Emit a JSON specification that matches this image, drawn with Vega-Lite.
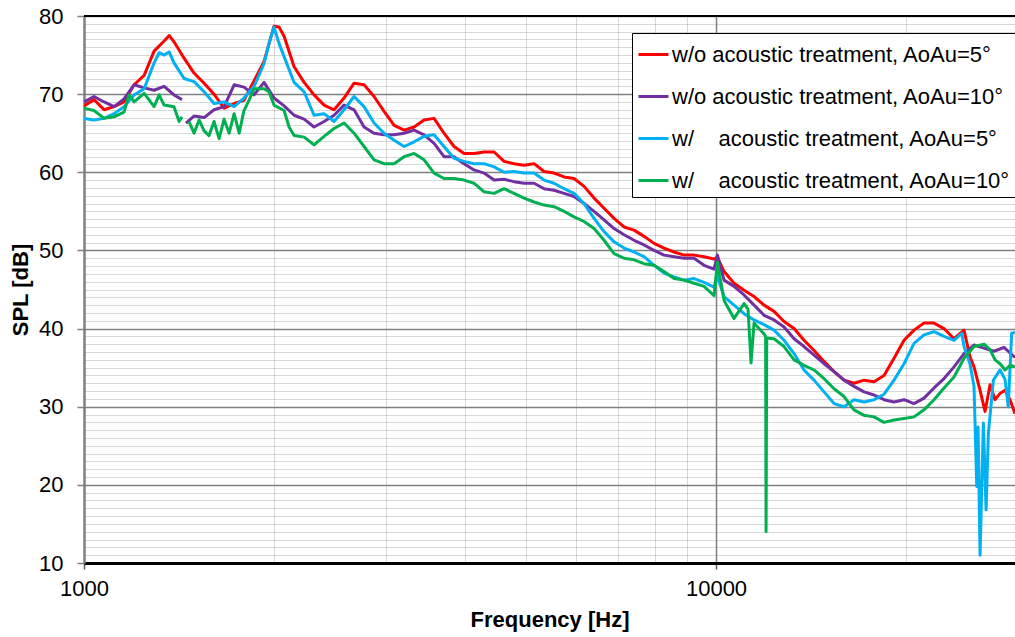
{
  "$schema": "https://vega.github.io/schema/vega-lite/v6.json",
  "width": 931,
  "height": 547,
  "autosize": {"type": "none"},
  "padding": {"left": 84, "top": 16, "right": 0, "bottom": 74},
  "background": "white",
  "config": {"view": {"stroke": null}, "font": "Liberation Sans"},
  "layer": [
    {
      "data": {"values": [
        {"series":"R","seg":"a","freq":1000,"spl":68.5},{"series":"R","seg":"a","freq":1037,"spl":69.3},{"series":"R","seg":"a","freq":1076,"spl":68.0},{"series":"R","seg":"a","freq":1116,"spl":68.4},{"series":"R","seg":"a","freq":1157,"spl":69.0},{"series":"R","seg":"a","freq":1200,"spl":71.2},{"series":"R","seg":"a","freq":1245,"spl":72.4},{"series":"R","seg":"a","freq":1291,"spl":75.5},{"series":"R","seg":"a","freq":1339,"spl":76.8},{"series":"R","seg":"a","freq":1364,"spl":77.5},{"series":"R","seg":"a","freq":1388,"spl":76.7},{"series":"R","seg":"a","freq":1440,"spl":74.6},{"series":"R","seg":"a","freq":1493,"spl":72.7},{"series":"R","seg":"a","freq":1549,"spl":71.4},{"series":"R","seg":"a","freq":1606,"spl":70.0},{"series":"R","seg":"a","freq":1666,"spl":68.2},{"series":"R","seg":"a","freq":1728,"spl":68.8},{"series":"R","seg":"a","freq":1791,"spl":69.2},{"series":"R","seg":"a","freq":1858,"spl":71.7},{"series":"R","seg":"a","freq":1927,"spl":74.2},{"series":"R","seg":"a","freq":1998,"spl":78.7},{"series":"R","seg":"a","freq":2035,"spl":78.6},{"series":"R","seg":"a","freq":2073,"spl":77.4},{"series":"R","seg":"a","freq":2150,"spl":73.5},{"series":"R","seg":"a","freq":2230,"spl":71.5},{"series":"R","seg":"a","freq":2312,"spl":69.9},{"series":"R","seg":"a","freq":2398,"spl":68.6},{"series":"R","seg":"a","freq":2487,"spl":68.0},{"series":"R","seg":"a","freq":2579,"spl":69.5},{"series":"R","seg":"a","freq":2675,"spl":71.4},{"series":"R","seg":"a","freq":2774,"spl":71.2},{"series":"R","seg":"a","freq":2877,"spl":69.7},{"series":"R","seg":"a","freq":2984,"spl":67.8},{"series":"R","seg":"a","freq":3095,"spl":66.0},{"series":"R","seg":"a","freq":3210,"spl":65.4},{"series":"R","seg":"a","freq":3329,"spl":65.8},{"series":"R","seg":"a","freq":3452,"spl":66.7},{"series":"R","seg":"a","freq":3580,"spl":66.9},{"series":"R","seg":"a","freq":3712,"spl":65.0},{"series":"R","seg":"a","freq":3850,"spl":63.3},{"series":"R","seg":"a","freq":3993,"spl":62.4},{"series":"R","seg":"a","freq":4141,"spl":62.4},{"series":"R","seg":"a","freq":4295,"spl":62.6},{"series":"R","seg":"a","freq":4455,"spl":62.6},{"series":"R","seg":"a","freq":4620,"spl":61.4},{"series":"R","seg":"a","freq":4791,"spl":61.1},{"series":"R","seg":"a","freq":4969,"spl":60.9},{"series":"R","seg":"a","freq":5154,"spl":61.1},{"series":"R","seg":"a","freq":5345,"spl":60.1},{"series":"R","seg":"a","freq":5543,"spl":59.9},{"series":"R","seg":"a","freq":5749,"spl":59.4},{"series":"R","seg":"a","freq":5962,"spl":59.2},{"series":"R","seg":"a","freq":6183,"spl":58.2},{"series":"R","seg":"a","freq":6413,"spl":56.7},{"series":"R","seg":"a","freq":6651,"spl":55.4},{"series":"R","seg":"a","freq":6897,"spl":54.1},{"series":"R","seg":"a","freq":7153,"spl":53.0},{"series":"R","seg":"a","freq":7419,"spl":52.6},{"series":"R","seg":"a","freq":7694,"spl":51.8},{"series":"R","seg":"a","freq":7979,"spl":50.9},{"series":"R","seg":"a","freq":8275,"spl":50.3},{"series":"R","seg":"a","freq":8582,"spl":49.8},{"series":"R","seg":"a","freq":8901,"spl":49.4},{"series":"R","seg":"a","freq":9231,"spl":49.4},{"series":"R","seg":"a","freq":9573,"spl":49.2},{"series":"R","seg":"a","freq":9929,"spl":48.9},{"series":"R","seg":"a","freq":10050,"spl":49.1},{"series":"R","seg":"a","freq":10297,"spl":47.3},{"series":"R","seg":"a","freq":10679,"spl":45.8},{"series":"R","seg":"a","freq":11075,"spl":44.9},{"series":"R","seg":"a","freq":11486,"spl":44.1},{"series":"R","seg":"a","freq":11912,"spl":43.0},{"series":"R","seg":"a","freq":12354,"spl":42.2},{"series":"R","seg":"a","freq":12813,"spl":40.9},{"series":"R","seg":"a","freq":13288,"spl":40.0},{"series":"R","seg":"a","freq":13781,"spl":38.5},{"series":"R","seg":"a","freq":14292,"spl":37.2},{"series":"R","seg":"a","freq":14822,"spl":35.8},{"series":"R","seg":"a","freq":15372,"spl":34.5},{"series":"R","seg":"a","freq":15943,"spl":33.4},{"series":"R","seg":"a","freq":16534,"spl":33.0},{"series":"R","seg":"a","freq":17148,"spl":33.4},{"series":"R","seg":"a","freq":17784,"spl":33.2},{"series":"R","seg":"a","freq":18443,"spl":34.0},{"series":"R","seg":"a","freq":19127,"spl":36.2},{"series":"R","seg":"a","freq":19837,"spl":38.5},{"series":"R","seg":"a","freq":20573,"spl":39.8},{"series":"R","seg":"a","freq":21337,"spl":40.7},{"series":"R","seg":"a","freq":22128,"spl":40.7},{"series":"R","seg":"a","freq":22949,"spl":40.0},{"series":"R","seg":"a","freq":23800,"spl":38.7},{"series":"R","seg":"a","freq":24683,"spl":39.8},{"series":"R","seg":"a","freq":25222,"spl":36.4},{"series":"R","seg":"a","freq":25599,"spl":35.1},{"series":"R","seg":"a","freq":26167,"spl":32.1},{"series":"R","seg":"a","freq":26649,"spl":29.4},{"series":"R","seg":"a","freq":27138,"spl":32.8},{"series":"R","seg":"a","freq":27637,"spl":30.9},{"series":"R","seg":"a","freq":28144,"spl":31.7},{"series":"R","seg":"a","freq":28662,"spl":32.1},{"series":"R","seg":"a","freq":29190,"spl":30.9},{"series":"R","seg":"a","freq":29720,"spl":29.1},

        {"series":"P","seg":"a","freq":1000,"spl":69.0},{"series":"P","seg":"a","freq":1037,"spl":69.7},{"series":"P","seg":"a","freq":1076,"spl":69.0},{"series":"P","seg":"a","freq":1116,"spl":68.4},{"series":"P","seg":"a","freq":1157,"spl":69.4},{"series":"P","seg":"a","freq":1200,"spl":71.2},{"series":"P","seg":"a","freq":1245,"spl":70.8},{"series":"P","seg":"a","freq":1291,"spl":70.5},{"series":"P","seg":"a","freq":1339,"spl":71.0},{"series":"P","seg":"a","freq":1388,"spl":69.9},{"series":"P","seg":"a","freq":1429,"spl":69.3},
        {"series":"P","seg":"b","freq":1450,"spl":66.3},{"series":"P","seg":"b","freq":1493,"spl":67.2},{"series":"P","seg":"b","freq":1549,"spl":67.0},{"series":"P","seg":"b","freq":1606,"spl":68.0},{"series":"P","seg":"b","freq":1666,"spl":68.4},{"series":"P","seg":"b","freq":1728,"spl":71.2},{"series":"P","seg":"b","freq":1791,"spl":70.9},{"series":"P","seg":"b","freq":1858,"spl":69.9},{"series":"P","seg":"b","freq":1927,"spl":71.5},{"series":"P","seg":"b","freq":1998,"spl":69.5},{"series":"P","seg":"b","freq":2073,"spl":68.5},{"series":"P","seg":"b","freq":2150,"spl":67.3},{"series":"P","seg":"b","freq":2230,"spl":66.8},{"series":"P","seg":"b","freq":2312,"spl":65.8},{"series":"P","seg":"b","freq":2398,"spl":66.5},{"series":"P","seg":"b","freq":2487,"spl":67.3},{"series":"P","seg":"b","freq":2579,"spl":68.6},{"series":"P","seg":"b","freq":2675,"spl":68.0},{"series":"P","seg":"b","freq":2774,"spl":65.8},{"series":"P","seg":"b","freq":2877,"spl":65.0},{"series":"P","seg":"b","freq":2984,"spl":64.8},{"series":"P","seg":"b","freq":3095,"spl":64.8},{"series":"P","seg":"b","freq":3210,"spl":65.0},{"series":"P","seg":"b","freq":3329,"spl":65.4},{"series":"P","seg":"b","freq":3452,"spl":64.8},{"series":"P","seg":"b","freq":3580,"spl":63.7},{"series":"P","seg":"b","freq":3712,"spl":62.0},{"series":"P","seg":"b","freq":3850,"spl":62.0},{"series":"P","seg":"b","freq":3993,"spl":61.1},{"series":"P","seg":"b","freq":4141,"spl":60.3},{"series":"P","seg":"b","freq":4295,"spl":59.9},{"series":"P","seg":"b","freq":4455,"spl":59.0},{"series":"P","seg":"b","freq":4620,"spl":59.1},{"series":"P","seg":"b","freq":4791,"spl":58.8},{"series":"P","seg":"b","freq":4969,"spl":58.6},{"series":"P","seg":"b","freq":5154,"spl":58.6},{"series":"P","seg":"b","freq":5345,"spl":57.9},{"series":"P","seg":"b","freq":5543,"spl":57.7},{"series":"P","seg":"b","freq":5749,"spl":57.3},{"series":"P","seg":"b","freq":5962,"spl":56.9},{"series":"P","seg":"b","freq":6183,"spl":56.0},{"series":"P","seg":"b","freq":6413,"spl":55.0},{"series":"P","seg":"b","freq":6651,"spl":53.9},{"series":"P","seg":"b","freq":6897,"spl":52.8},{"series":"P","seg":"b","freq":7153,"spl":52.0},{"series":"P","seg":"b","freq":7419,"spl":51.3},{"series":"P","seg":"b","freq":7694,"spl":50.7},{"series":"P","seg":"b","freq":7979,"spl":50.0},{"series":"P","seg":"b","freq":8275,"spl":49.4},{"series":"P","seg":"b","freq":8582,"spl":49.2},{"series":"P","seg":"b","freq":8901,"spl":49.0},{"series":"P","seg":"b","freq":9231,"spl":49.0},{"series":"P","seg":"b","freq":9573,"spl":48.1},{"series":"P","seg":"b","freq":9929,"spl":47.6},{"series":"P","seg":"b","freq":10050,"spl":49.4},{"series":"P","seg":"b","freq":10297,"spl":46.2},{"series":"P","seg":"b","freq":10679,"spl":45.4},{"series":"P","seg":"b","freq":11075,"spl":44.3},{"series":"P","seg":"b","freq":11486,"spl":43.0},{"series":"P","seg":"b","freq":11912,"spl":41.7},{"series":"P","seg":"b","freq":12354,"spl":41.1},{"series":"P","seg":"b","freq":12813,"spl":40.2},{"series":"P","seg":"b","freq":13288,"spl":38.7},{"series":"P","seg":"b","freq":13781,"spl":37.7},{"series":"P","seg":"b","freq":14292,"spl":36.6},{"series":"P","seg":"b","freq":14822,"spl":35.5},{"series":"P","seg":"b","freq":15372,"spl":34.5},{"series":"P","seg":"b","freq":15943,"spl":33.4},{"series":"P","seg":"b","freq":16534,"spl":32.6},{"series":"P","seg":"b","freq":17148,"spl":31.9},{"series":"P","seg":"b","freq":17784,"spl":31.5},{"series":"P","seg":"b","freq":18443,"spl":30.9},{"series":"P","seg":"b","freq":19127,"spl":30.6},{"series":"P","seg":"b","freq":19837,"spl":30.9},{"series":"P","seg":"b","freq":20573,"spl":30.4},{"series":"P","seg":"b","freq":21337,"spl":31.1},{"series":"P","seg":"b","freq":22128,"spl":32.4},{"series":"P","seg":"b","freq":22949,"spl":33.6},{"series":"P","seg":"b","freq":23800,"spl":35.1},{"series":"P","seg":"b","freq":24683,"spl":36.8},{"series":"P","seg":"b","freq":25599,"spl":37.9},{"series":"P","seg":"b","freq":26549,"spl":37.5},{"series":"P","seg":"b","freq":27534,"spl":37.1},{"series":"P","seg":"b","freq":28555,"spl":37.6},{"series":"P","seg":"b","freq":29720,"spl":36.3},

        {"series":"B","seg":"a","freq":1000,"spl":66.9},{"series":"B","seg":"a","freq":1037,"spl":66.7},{"series":"B","seg":"a","freq":1076,"spl":66.9},{"series":"B","seg":"a","freq":1116,"spl":67.5},{"series":"B","seg":"a","freq":1157,"spl":68.4},{"series":"B","seg":"a","freq":1200,"spl":69.9},{"series":"B","seg":"a","freq":1245,"spl":70.7},{"series":"B","seg":"a","freq":1291,"spl":74.0},{"series":"B","seg":"a","freq":1315,"spl":75.3},{"series":"B","seg":"a","freq":1339,"spl":75.0},{"series":"B","seg":"a","freq":1364,"spl":75.4},{"series":"B","seg":"a","freq":1388,"spl":74.0},{"series":"B","seg":"a","freq":1440,"spl":72.0},{"series":"B","seg":"a","freq":1493,"spl":71.6},{"series":"B","seg":"a","freq":1549,"spl":70.3},{"series":"B","seg":"a","freq":1606,"spl":68.8},{"series":"B","seg":"a","freq":1666,"spl":69.0},{"series":"B","seg":"a","freq":1728,"spl":68.4},{"series":"B","seg":"a","freq":1791,"spl":69.5},{"series":"B","seg":"a","freq":1858,"spl":71.0},{"series":"B","seg":"a","freq":1927,"spl":73.9},{"series":"B","seg":"a","freq":1962,"spl":76.5},{"series":"B","seg":"a","freq":1998,"spl":78.6},{"series":"B","seg":"a","freq":2035,"spl":76.5},{"series":"B","seg":"a","freq":2073,"spl":74.8},{"series":"B","seg":"a","freq":2150,"spl":71.5},{"series":"B","seg":"a","freq":2230,"spl":70.3},{"series":"B","seg":"a","freq":2312,"spl":67.3},{"series":"B","seg":"a","freq":2398,"spl":67.5},{"series":"B","seg":"a","freq":2487,"spl":66.5},{"series":"B","seg":"a","freq":2579,"spl":68.0},{"series":"B","seg":"a","freq":2675,"spl":69.7},{"series":"B","seg":"a","freq":2774,"spl":68.4},{"series":"B","seg":"a","freq":2877,"spl":66.3},{"series":"B","seg":"a","freq":2984,"spl":65.0},{"series":"B","seg":"a","freq":3095,"spl":64.1},{"series":"B","seg":"a","freq":3210,"spl":63.3},{"series":"B","seg":"a","freq":3329,"spl":63.9},{"series":"B","seg":"a","freq":3452,"spl":64.6},{"series":"B","seg":"a","freq":3580,"spl":64.8},{"series":"B","seg":"a","freq":3712,"spl":63.3},{"series":"B","seg":"a","freq":3850,"spl":61.8},{"series":"B","seg":"a","freq":3993,"spl":61.4},{"series":"B","seg":"a","freq":4141,"spl":61.1},{"series":"B","seg":"a","freq":4295,"spl":61.1},{"series":"B","seg":"a","freq":4455,"spl":60.7},{"series":"B","seg":"a","freq":4620,"spl":60.0},{"series":"B","seg":"a","freq":4791,"spl":60.1},{"series":"B","seg":"a","freq":4969,"spl":59.9},{"series":"B","seg":"a","freq":5154,"spl":59.9},{"series":"B","seg":"a","freq":5345,"spl":59.0},{"series":"B","seg":"a","freq":5543,"spl":58.6},{"series":"B","seg":"a","freq":5749,"spl":57.9},{"series":"B","seg":"a","freq":5962,"spl":57.3},{"series":"B","seg":"a","freq":6183,"spl":56.0},{"series":"B","seg":"a","freq":6413,"spl":54.1},{"series":"B","seg":"a","freq":6651,"spl":52.4},{"series":"B","seg":"a","freq":6897,"spl":51.1},{"series":"B","seg":"a","freq":7153,"spl":50.3},{"series":"B","seg":"a","freq":7419,"spl":49.8},{"series":"B","seg":"a","freq":7694,"spl":49.2},{"series":"B","seg":"a","freq":7979,"spl":48.1},{"series":"B","seg":"a","freq":8275,"spl":47.1},{"series":"B","seg":"a","freq":8582,"spl":46.6},{"series":"B","seg":"a","freq":8901,"spl":46.2},{"series":"B","seg":"a","freq":9231,"spl":46.4},{"series":"B","seg":"a","freq":9573,"spl":45.9},{"series":"B","seg":"a","freq":9929,"spl":45.3},{"series":"B","seg":"a","freq":10050,"spl":46.7},{"series":"B","seg":"a","freq":10297,"spl":44.1},{"series":"B","seg":"a","freq":10679,"spl":43.0},{"series":"B","seg":"a","freq":11075,"spl":41.9},{"series":"B","seg":"a","freq":11486,"spl":41.1},{"series":"B","seg":"a","freq":11912,"spl":40.5},{"series":"B","seg":"a","freq":12354,"spl":39.8},{"series":"B","seg":"a","freq":12813,"spl":38.5},{"series":"B","seg":"a","freq":13288,"spl":36.8},{"series":"B","seg":"a","freq":13781,"spl":34.7},{"series":"B","seg":"a","freq":14292,"spl":33.4},{"series":"B","seg":"a","freq":14822,"spl":31.9},{"series":"B","seg":"a","freq":15372,"spl":30.4},{"series":"B","seg":"a","freq":15943,"spl":30.0},{"series":"B","seg":"a","freq":16534,"spl":30.9},{"series":"B","seg":"a","freq":17148,"spl":30.6},{"series":"B","seg":"a","freq":17784,"spl":30.9},{"series":"B","seg":"a","freq":18443,"spl":31.6},{"series":"B","seg":"a","freq":19127,"spl":33.4},{"series":"B","seg":"a","freq":19837,"spl":35.5},{"series":"B","seg":"a","freq":20573,"spl":38.1},{"series":"B","seg":"a","freq":21337,"spl":39.2},{"series":"B","seg":"a","freq":22128,"spl":39.6},{"series":"B","seg":"a","freq":22949,"spl":39.0},{"series":"B","seg":"a","freq":23800,"spl":38.5},{"series":"B","seg":"a","freq":24476,"spl":39.4},{"series":"B","seg":"a","freq":24683,"spl":37.7},{"series":"B","seg":"a","freq":25222,"spl":35.5},{"series":"B","seg":"a","freq":25599,"spl":32.6},{"series":"B","seg":"a","freq":25853,"spl":19.8},{"series":"B","seg":"a","freq":25977,"spl":27.4},{"series":"B","seg":"a","freq":26167,"spl":11.0},{"series":"B","seg":"a","freq":26485,"spl":27.9},{"series":"B","seg":"a","freq":26747,"spl":16.8},{"series":"B","seg":"a","freq":26973,"spl":26.6},{"series":"B","seg":"a","freq":27469,"spl":33.4},{"series":"B","seg":"a","freq":28144,"spl":34.7},{"series":"B","seg":"a","freq":28662,"spl":33.5},{"series":"B","seg":"a","freq":29000,"spl":30.0},{"series":"B","seg":"a","freq":29362,"spl":39.4},{"series":"B","seg":"a","freq":29720,"spl":39.5},

        {"series":"G","seg":"a","freq":1000,"spl":68.2},{"series":"G","seg":"a","freq":1037,"spl":67.9},{"series":"G","seg":"a","freq":1076,"spl":66.9},{"series":"G","seg":"a","freq":1116,"spl":67.1},{"series":"G","seg":"a","freq":1157,"spl":67.7},{"series":"G","seg":"a","freq":1178,"spl":69.9},{"series":"G","seg":"a","freq":1200,"spl":69.0},{"series":"G","seg":"a","freq":1245,"spl":70.1},{"series":"G","seg":"a","freq":1291,"spl":68.4},{"series":"G","seg":"a","freq":1315,"spl":69.9},{"series":"G","seg":"a","freq":1339,"spl":68.6},{"series":"G","seg":"a","freq":1388,"spl":68.4},{"series":"G","seg":"a","freq":1414,"spl":66.5},{"series":"G","seg":"a","freq":1429,"spl":67.1},
        {"series":"G","seg":"b","freq":1466,"spl":66.5},{"series":"G","seg":"b","freq":1493,"spl":65.0},{"series":"G","seg":"b","freq":1521,"spl":66.7},{"series":"G","seg":"b","freq":1549,"spl":65.3},{"series":"G","seg":"b","freq":1577,"spl":64.7},{"series":"G","seg":"b","freq":1606,"spl":66.5},{"series":"G","seg":"b","freq":1636,"spl":64.3},{"series":"G","seg":"b","freq":1666,"spl":66.8},{"series":"G","seg":"b","freq":1697,"spl":65.0},{"series":"G","seg":"b","freq":1728,"spl":67.5},{"series":"G","seg":"b","freq":1760,"spl":65.0},{"series":"G","seg":"b","freq":1791,"spl":67.9},{"series":"G","seg":"b","freq":1824,"spl":69.2},{"series":"G","seg":"b","freq":1858,"spl":70.7},{"series":"G","seg":"b","freq":1927,"spl":70.7},{"series":"G","seg":"b","freq":1962,"spl":70.3},{"series":"G","seg":"b","freq":1998,"spl":68.6},{"series":"G","seg":"b","freq":2073,"spl":67.9},{"series":"G","seg":"b","freq":2111,"spl":65.8},{"series":"G","seg":"b","freq":2150,"spl":64.7},{"series":"G","seg":"b","freq":2230,"spl":64.5},{"series":"G","seg":"b","freq":2312,"spl":63.5},{"series":"G","seg":"b","freq":2398,"spl":64.6},{"series":"G","seg":"b","freq":2487,"spl":65.6},{"series":"G","seg":"b","freq":2579,"spl":66.3},{"series":"G","seg":"b","freq":2675,"spl":65.0},{"series":"G","seg":"b","freq":2774,"spl":63.3},{"series":"G","seg":"b","freq":2877,"spl":61.6},{"series":"G","seg":"b","freq":2984,"spl":61.1},{"series":"G","seg":"b","freq":3095,"spl":61.1},{"series":"G","seg":"b","freq":3210,"spl":62.0},{"series":"G","seg":"b","freq":3329,"spl":62.4},{"series":"G","seg":"b","freq":3452,"spl":61.6},{"series":"G","seg":"b","freq":3580,"spl":59.9},{"series":"G","seg":"b","freq":3712,"spl":59.2},{"series":"G","seg":"b","freq":3850,"spl":59.2},{"series":"G","seg":"b","freq":3993,"spl":59.0},{"series":"G","seg":"b","freq":4141,"spl":58.6},{"series":"G","seg":"b","freq":4295,"spl":57.5},{"series":"G","seg":"b","freq":4455,"spl":57.3},{"series":"G","seg":"b","freq":4620,"spl":57.9},{"series":"G","seg":"b","freq":4791,"spl":57.3},{"series":"G","seg":"b","freq":4969,"spl":56.7},{"series":"G","seg":"b","freq":5154,"spl":56.2},{"series":"G","seg":"b","freq":5345,"spl":55.8},{"series":"G","seg":"b","freq":5543,"spl":55.6},{"series":"G","seg":"b","freq":5749,"spl":55.0},{"series":"G","seg":"b","freq":5962,"spl":54.3},{"series":"G","seg":"b","freq":6183,"spl":53.7},{"series":"G","seg":"b","freq":6413,"spl":52.8},{"series":"G","seg":"b","freq":6651,"spl":51.3},{"series":"G","seg":"b","freq":6897,"spl":49.6},{"series":"G","seg":"b","freq":7153,"spl":49.0},{"series":"G","seg":"b","freq":7419,"spl":48.8},{"series":"G","seg":"b","freq":7694,"spl":48.3},{"series":"G","seg":"b","freq":7979,"spl":48.1},{"series":"G","seg":"b","freq":8275,"spl":47.3},{"series":"G","seg":"b","freq":8582,"spl":46.4},{"series":"G","seg":"b","freq":8901,"spl":46.2},{"series":"G","seg":"b","freq":9231,"spl":45.8},{"series":"G","seg":"b","freq":9573,"spl":45.4},{"series":"G","seg":"b","freq":9929,"spl":44.2},{"series":"G","seg":"b","freq":10050,"spl":48.5},{"series":"G","seg":"b","freq":10297,"spl":43.6},{"series":"G","seg":"b","freq":10679,"spl":41.3},{"series":"G","seg":"b","freq":11075,"spl":43.2},{"series":"G","seg":"b","freq":11236,"spl":42.5},{"series":"G","seg":"b","freq":11360,"spl":35.6},{"series":"G","seg":"b","freq":11486,"spl":40.7},{"series":"G","seg":"b","freq":11912,"spl":39.3},{"series":"G","seg":"b","freq":11980,"spl":39.0},{"series":"G","seg":"b","freq":12000,"spl":14.0},{"series":"G","seg":"b","freq":12030,"spl":38.8},{"series":"G","seg":"b","freq":12354,"spl":38.7},{"series":"G","seg":"b","freq":12813,"spl":37.7},{"series":"G","seg":"b","freq":13288,"spl":36.0},{"series":"G","seg":"b","freq":13781,"spl":35.3},{"series":"G","seg":"b","freq":14292,"spl":34.7},{"series":"G","seg":"b","freq":14822,"spl":33.6},{"series":"G","seg":"b","freq":15372,"spl":32.3},{"series":"G","seg":"b","freq":15943,"spl":31.3},{"series":"G","seg":"b","freq":16534,"spl":29.6},{"series":"G","seg":"b","freq":17148,"spl":28.9},{"series":"G","seg":"b","freq":17784,"spl":28.7},{"series":"G","seg":"b","freq":18443,"spl":28.0},{"series":"G","seg":"b","freq":19127,"spl":28.3},{"series":"G","seg":"b","freq":19837,"spl":28.5},{"series":"G","seg":"b","freq":20573,"spl":28.7},{"series":"G","seg":"b","freq":21337,"spl":29.6},{"series":"G","seg":"b","freq":22128,"spl":30.9},{"series":"G","seg":"b","freq":22949,"spl":32.4},{"series":"G","seg":"b","freq":23800,"spl":33.8},{"series":"G","seg":"b","freq":24683,"spl":36.2},{"series":"G","seg":"b","freq":25599,"spl":37.7},{"series":"G","seg":"b","freq":26549,"spl":38.0},{"series":"G","seg":"b","freq":27138,"spl":37.3},{"series":"G","seg":"b","freq":27637,"spl":36.0},{"series":"G","seg":"b","freq":28144,"spl":35.5},{"series":"G","seg":"b","freq":28662,"spl":34.7},{"series":"G","seg":"b","freq":29190,"spl":35.3},{"series":"G","seg":"b","freq":29720,"spl":35.1}
      ]},
      "mark": {"type": "line", "strokeWidth": 3, "clip": true, "strokeJoin": "round"},
      "encoding": {
        "x": {
          "field": "freq", "type": "quantitative",
          "scale": {"type": "log", "domain": [1000, 29720]},
          "axis": {
            "values": [1000, 2000, 3000, 4000, 5000, 6000, 7000, 8000, 9000, 10000, 20000],
            "format": "d",
            "labelExpr": "(datum.value == 1000 || datum.value == 10000) ? datum.label : ''",
            "labelFont": "Liberation Sans", "labelFontSize": 22, "labelColor": "black",
            "labelPadding": 9, "labelOverlap": false, "labelFlush": false,
            "tickSize": 6, "tickColor": "#595959", "tickWidth": 1.5,
            "tickOpacity": {"condition": {"test": "datum.value == 1000 || datum.value == 10000", "value": 1}, "value": 0},
            "grid": true,
            "gridColor": "#7f7f7f",
            "gridOpacity": {"condition": {"test": "datum.value == 10000", "value": 1}, "value": 0.3},
            "gridWidth": {"condition": {"test": "datum.value == 10000", "value": 1.5}, "value": 1},
            "domainColor": "black", "domainWidth": 3,
            "title": "Frequency [Hz]", "titleFont": "Liberation Sans", "titleFontSize": 22, "titleFontWeight": "bold", "titleColor": "black", "titlePadding": 10
          }
        },
        "y": {
          "field": "spl", "type": "quantitative",
          "scale": {"domain": [10, 80], "nice": false, "zero": false},
          "axis": {
            "values": [10,11,12,13,14,15,16,17,18,19,20,21,22,23,24,25,26,27,28,29,30,31,32,33,34,35,36,37,38,39,40,41,42,43,44,45,46,47,48,49,50,51,52,53,54,55,56,57,58,59,60,61,62,63,64,65,66,67,68,69,70,71,72,73,74,75,76,77,78,79,80],
            "labelExpr": "datum.value % 10 == 0 ? datum.label : ''",
            "labelFont": "Liberation Sans", "labelFontSize": 22, "labelColor": "black",
            "labelPadding": 14, "labelOverlap": false, "labelFlush": false,
            "tickSize": 7, "tickColor": "#7f7f7f", "tickWidth": 1.5,
            "tickOpacity": {"condition": {"test": "datum.value % 10 == 0", "value": 1}, "value": 0},
            "grid": true,
            "gridColor": "#7f7f7f",
            "gridOpacity": {"condition": {"test": "datum.value % 10 == 0", "value": 1}, "value": 0.3},
            "gridWidth": {"condition": {"test": "datum.value % 10 == 0", "value": 1.5}, "value": 1},
            "domainColor": "#7f7f7f", "domainWidth": 2.5,
            "title": "SPL [dB]", "titleFont": "Liberation Sans", "titleFontSize": 22, "titleFontWeight": "bold", "titleColor": "black", "titlePadding": 6
          }
        },
        "color": {
          "field": "series", "type": "nominal",
          "scale": {"domain": ["R", "P", "B", "G"], "range": ["#FF0000", "#7030A0", "#00B0F0", "#00B050"]},
          "legend": {
            "orient": "none", "legendX": 548, "legendY": 17,
            "title": null,
            "strokeColor": "black", "fillColor": "white", "padding": 5,
            "symbolType": "stroke", "symbolStrokeWidth": 3, "symbolSize": 900,
            "labelFont": "Liberation Sans", "labelFontSize": 22, "labelColor": "black", "labelLimit": 500,
            "labelOffset": 2, "rowPadding": 14,
            "labelExpr": "datum.value == 'R' ? 'w/o acoustic treatment, AoAu=5°' : datum.value == 'P' ? 'w/o acoustic treatment, AoAu=10°' : datum.value == 'B' ? 'w/\u00a0\u00a0\u00a0\u00a0acoustic treatment, AoAu=5°' : 'w/\u00a0\u00a0\u00a0\u00a0acoustic treatment, AoAu=10°'"
          }
        },
        "detail": {"field": "seg"}
      }
    },
    {
      "data": {"values": [{}]},
      "mark": {"type": "rule", "color": "black", "strokeWidth": 2},
      "encoding": {
        "y": {
          "datum": 80, "type": "quantitative",
          "scale": {"domain": [10, 80], "nice": false, "zero": false},
          "axis": {
            "values": [10,11,12,13,14,15,16,17,18,19,20,21,22,23,24,25,26,27,28,29,30,31,32,33,34,35,36,37,38,39,40,41,42,43,44,45,46,47,48,49,50,51,52,53,54,55,56,57,58,59,60,61,62,63,64,65,66,67,68,69,70,71,72,73,74,75,76,77,78,79,80],
            "labelExpr": "datum.value % 10 == 0 ? datum.label : ''",
            "labelFont": "Liberation Sans", "labelFontSize": 22, "labelColor": "black",
            "labelPadding": 14, "labelOverlap": false, "labelFlush": false,
            "tickSize": 7, "tickColor": "#7f7f7f", "tickWidth": 1.5,
            "tickOpacity": {"condition": {"test": "datum.value % 10 == 0", "value": 1}, "value": 0},
            "grid": true,
            "gridColor": "#7f7f7f",
            "gridOpacity": {"condition": {"test": "datum.value % 10 == 0", "value": 1}, "value": 0.3},
            "gridWidth": {"condition": {"test": "datum.value % 10 == 0", "value": 1.5}, "value": 1},
            "domainColor": "#7f7f7f", "domainWidth": 2.5,
            "title": "SPL [dB]", "titleFont": "Liberation Sans", "titleFontSize": 22, "titleFontWeight": "bold", "titleColor": "black", "titlePadding": 6
          }
        }
      }
    }
  ]
}
